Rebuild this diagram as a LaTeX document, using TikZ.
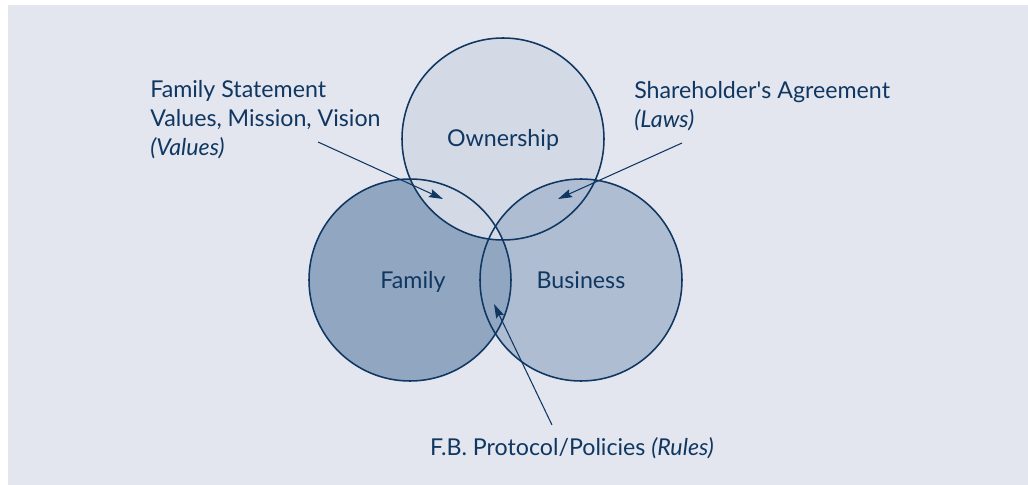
\documentclass[tikz,border=0pt]{standalone}
\usepackage{fontspec}
\setmainfont{Lato}
\usepackage{tikz}
\usetikzlibrary{arrows.meta, positioning}
\definecolor{panel}{HTML}{E3E6EF}
\definecolor{navy}{HTML}{0F3761}
\definecolor{ownfill}{HTML}{D3DAE6}
\definecolor{famfill}{HTML}{91A7C1}
\definecolor{busfill}{HTML}{AFBDD3}
\begin{document}
\begin{tikzpicture}[
    x=0.025cm, y=-0.025cm,
    txt/.style={font=\fontsize{16.5}{20.8}\selectfont, text=navy, inner sep=0pt},
    ring/.style={draw=navy, line width=1.1pt},
    pointer/.style={draw=navy, line width=0.75pt, -{Stealth[length=10pt, width=6pt, inset=1.5pt]}}
]
    \useasboundingbox (0,0) rectangle (1028,485);
    \fill[panel] (8,5) rectangle (1028,485);

    % Circle centres
    \coordinate (own) at (503,139);
    \coordinate (fam) at (410,280);
    \coordinate (bus) at (581,280);
    \def\rad{101}

    % Fills
    \fill[busfill] (bus) circle[radius=\rad];
    \fill[famfill] (fam) circle[radius=\rad];
    \fill[ownfill] (own) circle[radius=\rad];
    \begin{scope}
        \clip (bus) circle[radius=\rad];
        \clip (own) circle[radius=\rad];
        \fill[busfill] (own) circle[radius=\rad];
        \clip (fam) circle[radius=\rad];
        \fill[ownfill] (own) circle[radius=\rad];
    \end{scope}

    % Outlines
    \draw[ring] (own) circle[radius=\rad];
    \draw[ring] (fam) circle[radius=\rad];
    \draw[ring] (bus) circle[radius=\rad];

    % Circle labels
    \node[txt, anchor=base] (ownlbl) at (503,147) {Ownership};
    \node[txt, anchor=base] (famlbl) at (413,289) {Family};
    \node[txt, anchor=base] (buslbl) at (581,289) {Business};

    % Side labels
    \node[txt, align=left, anchor=north west] (values) at (150,80)
        {Family Statement\\Values, Mission, Vision\\\textit{(Values)}};
    \node[txt, align=left, anchor=north west] (laws) at (634,81)
        {Shareholder\textquotesingle s Agreement\\\textit{(Laws)}};
    \node[txt, anchor=base] (rules) at (572,455)
        {F.B. Protocol/Policies \textit{(Rules)}};

    % Pointers
    \coordinate (vstart) at (318,142);
    \coordinate (vtip) at (443,199);
    \coordinate (lstart) at (682,143);
    \coordinate (ltip) at (558,199);
    \coordinate (rstart) at (552,425);
    \coordinate (rtip) at (494,304);
    \draw[pointer] (vstart) -- (vtip);
    \draw[pointer] (lstart) -- (ltip);
    \draw[pointer] (rstart) -- (rtip);
\end{tikzpicture}
\end{document}
